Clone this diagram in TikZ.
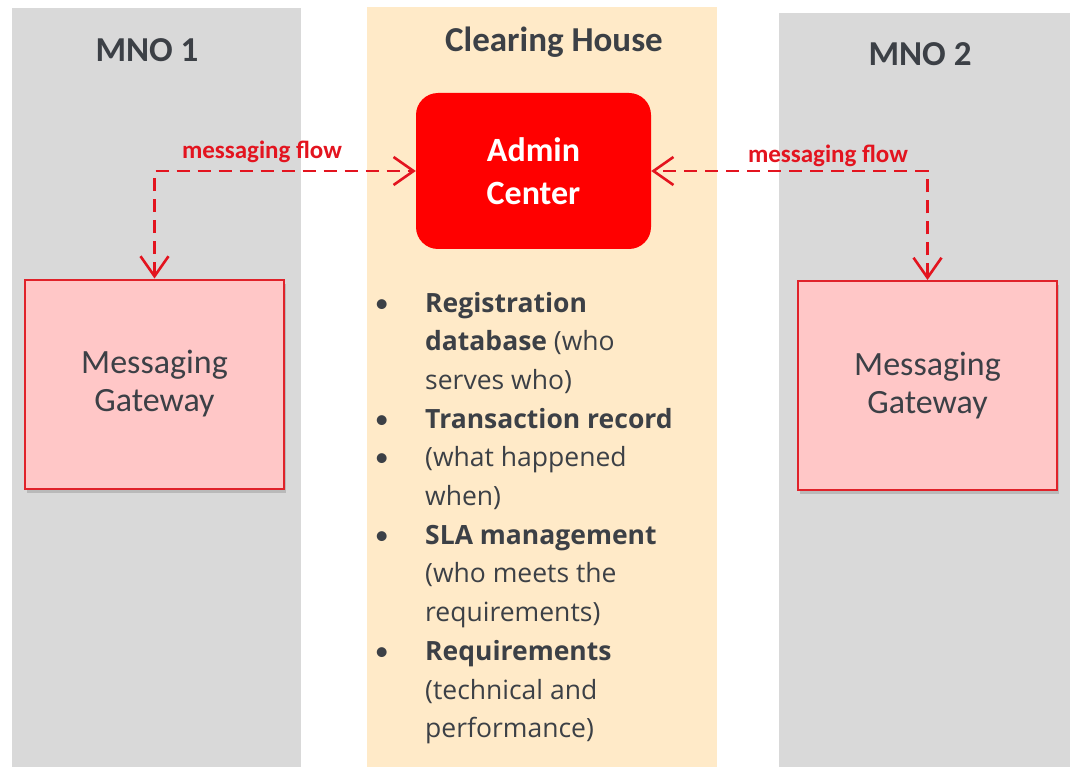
\documentclass[tikz,border=0pt]{standalone}
\usepackage{fontspec}
\setmainfont{Carlito}
\newfontfamily\listfont{Open Sans}
\newfontfamily\dotfont{Lato}
\usetikzlibrary{arrows.meta,shadows}

\definecolor{panelgray}{HTML}{D9D9D9}
\definecolor{peach}{HTML}{FFEAC8}
\definecolor{darktext}{HTML}{3C4046}
\definecolor{flowred}{HTML}{E3141F}
\definecolor{gwfill}{HTML}{FFC7C7}
\definecolor{gwline}{HTML}{E0222A}

\newcommand{\itemdot}{{\dotfont •}}

\tikzset{
  panel/.style={fill=#1, draw=none},
  title/.style={font=\bfseries\fontsize{35}{40}\selectfont, text=darktext, anchor=base},
  gateway/.style={draw=gwline, line width=2pt, fill=gwfill,
    minimum width=259pt, minimum height=209pt, align=center,
    font=\fontsize{34}{38}\selectfont, text=darktext,
    drop shadow={shadow xshift=2pt, shadow yshift=-4pt, opacity=0.35}},
  flow/.style={draw=flowred, line width=2.8pt, dash pattern=on 13pt off 8pt,
    {Straight Barb[length=20pt,width=28pt,line width=2.6pt]}-{Straight Barb[length=20pt,width=28pt,line width=2.6pt]}},
  flowlabel/.style={text=flowred, font=\bfseries\fontsize{25}{27}\selectfont, anchor=base},
}

\begin{document}
\begin{tikzpicture}[x=1pt, y=-1pt]

\useasboundingbox (0,0) rectangle (1070,767);

% the three columns
\fill[panel=panelgray] (12,8) rectangle (301,767);
\fill[panel=peach] (367,7) rectangle (717,767);
\fill[panel=panelgray] (779,13) rectangle (1070,767);

\node[title] (mno1) at (147,62) {MNO 1};
\node[title] (house) at (554,52) {Clearing House};
\node[title] (mno2) at (920,66) {MNO 2};

% admin centre
\node[fill=red, draw=none, rounded corners=22pt, minimum width=235pt, minimum height=156pt,
  text=white, align=center, font=\bfseries\fontsize{34}{43}\selectfont]
  (admin) at (533.5,171) {Admin\\Center};

% gateways
\node[gateway] (gw1) at (154.5,384) {Messaging\\Gateway};
\node[gateway] (gw2) at (927.5,385.5) {Messaging\\Gateway};

\draw[flow] (gw1.north) |- (admin.west);
\draw[flow] (gw2.north) |- (admin.east);

\node[flowlabel] (lbl1) at (262,159) {messaging flow};
\node[flowlabel] (lbl2) at (828,163) {messaging flow};

% what the clearing house keeps
\node[anchor=base west, inner sep=0pt, text=darktext] (duties) at (374,312) {%
  \listfont\fontsize{26.5}{38.7}\selectfont
  \begin{tabular}[t]{@{}p{51pt}@{}l@{}}
  \itemdot & \textbf{Registration}\\
    & \textbf{database} (who\\
    & serves who)\\
  \itemdot & \textbf{Transaction record}\\
  \itemdot & (what happened\\
    & when)\\
  \itemdot & \textbf{SLA management}\\
    & (who meets the\\
    & requirements)\\
  \itemdot & \textbf{Requirements}\\
    & (technical and\\
    & performance)
  \end{tabular}};

\end{tikzpicture}
\end{document}
